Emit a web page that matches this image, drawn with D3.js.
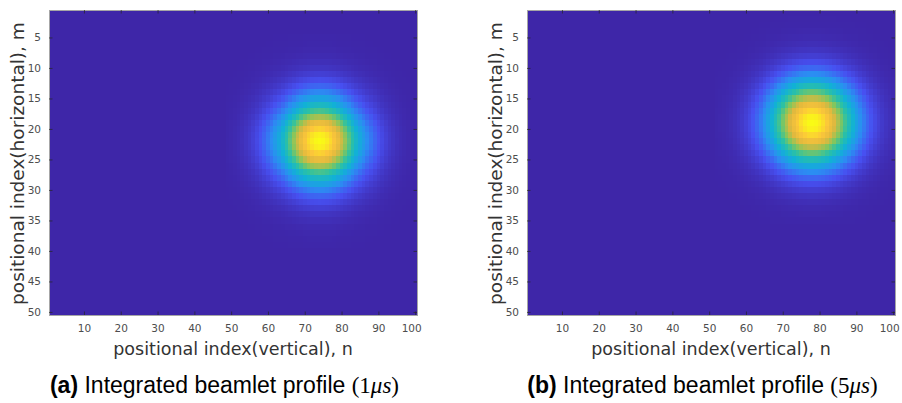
<!DOCTYPE html>
<html>
<head>
<meta charset="utf-8">
<script src="https://cdn.jsdelivr.net/npm/d3@7"></script>
<style>
  html, body { margin: 0; padding: 0; background: #fff; }
  svg { display: block; }
  .tick text { font-family: "DejaVu Sans", sans-serif; font-size: 10.5px; fill: #4d4d4d; }
</style>
</head>
<body>
<div id="chart"></div>
<script>
const xTicks = [10, 20, 30, 40, 50, 60, 70, 80, 90, 100];
const yTicks = [5, 10, 15, 20, 25, 30, 35, 40, 45, 50];

// column profile (n = 1..100)
const colsA = [
  0, 0, 0, 0, 0, 0, 0, 0, 0, 0,
  0, 0, 0, 0, 0, 0, 0, 0, 0, 0,
  0, 0, 0, 0, 0, 0, 0, 0, 0, 0,
  0, 0, 0, 0, 0, 0, 0, 0, 0, 0,
  0, 0, 0, 0, 0, 0, 0, 0, 0.006, 0.01,
  0.015, 0.022, 0.032, 0.045, 0.06, 0.08, 0.105, 0.135, 0.17, 0.21,
  0.25, 0.30, 0.35, 0.415, 0.487, 0.566, 0.647, 0.726, 0.80, 0.868,
  0.923, 0.965, 0.99, 1, 0.99, 0.965, 0.923, 0.868, 0.80, 0.726,
  0.647, 0.566, 0.487, 0.415, 0.35, 0.30, 0.25, 0.21, 0.17, 0.135,
  0.105, 0.08, 0.06, 0.045, 0.032, 0.022, 0.015, 0.01, 0.006, 0.004
];
// row profile (m = 1..50), panel (a)
const rowsA = [
  0, 0, 0, 0, 0.003, 0.005, 0.009, 0.016, 0.028, 0.045,
  0.075, 0.115, 0.17, 0.24, 0.33, 0.43, 0.539, 0.674, 0.801, 0.906,
  0.976, 1, 0.976, 0.906, 0.801, 0.674, 0.539, 0.43, 0.33, 0.24,
  0.17, 0.115, 0.075, 0.045, 0.028, 0.016, 0.009, 0.005, 0.003, 0,
  0, 0, 0, 0, 0, 0, 0, 0, 0, 0
];
// column profile, panel (b)
const colsB = [
  0, 0, 0, 0, 0, 0, 0, 0, 0, 0,
  0, 0, 0, 0, 0, 0, 0, 0, 0, 0,
  0, 0, 0, 0, 0, 0, 0, 0, 0, 0,
  0, 0, 0, 0, 0, 0, 0, 0, 0, 0,
  0, 0, 0, 0, 0, 0, 0, 0, 0, 0,
  0, 0.005, 0.008, 0.011, 0.016, 0.023, 0.032, 0.044, 0.06, 0.08,
  0.105, 0.135, 0.172, 0.216, 0.267, 0.325, 0.389, 0.458, 0.531, 0.607,
  0.682, 0.755, 0.823, 0.882, 0.932, 0.969, 0.992, 1, 0.992, 0.969,
  0.932, 0.882, 0.823, 0.755, 0.682, 0.607, 0.531, 0.458, 0.389, 0.325,
  0.267, 0.216, 0.172, 0.135, 0.105, 0.08, 0.06, 0.044, 0.032, 0.023
];
// row profile, panel (b)
const rowsB = [
  0, 0.002, 0.004, 0.008, 0.014, 0.026, 0.044, 0.072, 0.114, 0.172,
  0.25, 0.345, 0.458, 0.581, 0.707, 0.823, 0.917, 0.979, 1, 0.979,
  0.917, 0.823, 0.707, 0.581, 0.458, 0.345, 0.25, 0.172, 0.114, 0.072,
  0.044, 0.026, 0.014, 0.008, 0.004, 0, 0, 0, 0, 0,
  0, 0, 0, 0, 0, 0, 0, 0, 0, 0
];

const panels = [
  { tag: "(a)", time: "1", cols: colsA, rows: rowsA, left: 49 },
  { tag: "(b)", time: "5", cols: colsB, rows: rowsB, left: 527 }
];

const xLabel = "positional index(vertical), n";
const yLabel = "positional index(horizontal), m";

// parula-like colour ramp
const parulaStops = [0, 0.125, 0.25, 0.375, 0.5, 0.625, 0.75, 0.875, 1];
const parulaColors = ["#3e26a8", "#4750f1", "#2b8ef2", "#11b1d6", "#2cc1a4", "#86c65c", "#e0b83e", "#fcc63a", "#f9fb15"];
const color = d3.scaleLinear().domain(parulaStops).range(parulaColors).interpolate(d3.interpolateRgb);

const W = 902, H = 403;
const plotW = 368, plotTop = 10, plotH = 305;

const svg = d3.select("#chart").append("svg").attr("width", W).attr("height", H);

panels.forEach((p) => {
  const g = svg.append("g").attr("transform", `translate(${p.left},${plotTop})`);
  const nIdx = d3.range(1, p.cols.length + 1);
  const mIdx = d3.range(1, p.rows.length + 1);

  const x = d3.scaleBand().domain(nIdx).range([0, plotW]);
  const y = d3.scaleBand().domain(mIdx).range([0, plotH]);
  const xl = d3.scaleLinear().domain([0.5, 100.5]).range([0, plotW]);
  const yl = d3.scaleLinear().domain([0.5, 50.5]).range([0, plotH]);

  const cells = [];
  mIdx.forEach((m) => nIdx.forEach((n) => cells.push({ m, n, v: p.rows[m - 1] * p.cols[n - 1] })));

  g.append("g").attr("shape-rendering", "crispEdges")
    .selectAll("rect").data(cells).join("rect")
    .attr("x", (d) => x(d.n)).attr("y", (d) => y(d.m))
    .attr("width", x.bandwidth() + 0.4).attr("height", y.bandwidth() + 0.4)
    .attr("fill", (d) => color(d.v));

  // box
  g.append("rect").attr("width", plotW).attr("height", plotH)
    .attr("fill", "none").attr("stroke", "#a6a6a6").attr("stroke-width", 1)
    .attr("shape-rendering", "crispEdges");

  const tickLen = 3.5;
  const xAxis = g.append("g").attr("transform", `translate(0,${plotH})`)
    .call(d3.axisBottom(xl).tickValues(xTicks).tickSizeInner(-tickLen).tickSizeOuter(0).tickPadding(10));
  xAxis.selectAll(".tick text").filter((d) => d === 100).attr("dx", -4);
  const xTop = g.append("g")
    .call(d3.axisTop(xl).tickValues(xTicks).tickSizeInner(-tickLen).tickSizeOuter(0).tickFormat(""));
  const yAxis = g.append("g")
    .call(d3.axisLeft(yl).tickValues(yTicks).tickSizeInner(-tickLen).tickSizeOuter(0).tickPadding(8));
  const yRight = g.append("g").attr("transform", `translate(${plotW},0)`)
    .call(d3.axisRight(yl).tickValues(yTicks).tickSizeInner(-tickLen).tickSizeOuter(0).tickFormat(""));
  [xAxis, xTop, yAxis, yRight].forEach((a) => {
    a.select(".domain").attr("stroke", "#a6a6a6");
    a.selectAll(".tick line").attr("stroke", "#262626").attr("stroke-opacity", 0.7);
  });

  g.append("text")
    .attr("x", plotW / 2).attr("y", plotH + 40)
    .attr("text-anchor", "middle")
    .style("font-family", "DejaVu Sans, sans-serif").style("font-size", "17.5px").style("fill", "#333")
    .text(xLabel);

  g.append("text")
    .attr("transform", `translate(-25,${plotH / 2 + 1}) rotate(-90)`)
    .attr("text-anchor", "middle")
    .style("font-family", "DejaVu Sans, sans-serif").style("font-size", "18.5px").style("fill", "#333")
    .text(yLabel);

  const cap = svg.append("text")
    .attr("x", p.left + plotW / 2 - 8.5).attr("y", 393)
    .attr("text-anchor", "middle")
    .style("font-family", "Liberation Sans, Arial, sans-serif").style("font-size", "23px").style("fill", "#000");
  cap.append("tspan").style("font-weight", "bold").text(p.tag);
  cap.append("tspan").text(" Integrated beamlet profile ");
  cap.append("tspan").style("font-family", "Liberation Serif, serif").text("(" + p.time);
  cap.append("tspan").style("font-family", "Liberation Serif, serif").style("font-style", "italic").text("μs");
  cap.append("tspan").style("font-family", "Liberation Serif, serif").text(")");
});
</script>
</body>
</html>
